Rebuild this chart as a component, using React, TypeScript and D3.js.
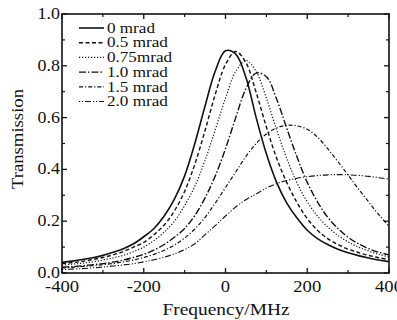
import React from "react";
import * as d3 from "d3";

const freqs = [-400,-375,-350,-325,-300,-275,-250,-225,-200,-175,-150,-125,-100,-75,-50,-25,0,25,50,75,100,125,150,175,200,225,250,275,300,325,350,375,400];

const s00 = [0.041,0.046,0.052,0.059,0.068,0.080,0.094,0.113,0.140,0.172,0.220,0.285,0.375,0.500,0.645,0.780,0.858,0.845,0.755,0.600,0.460,0.350,0.270,0.212,0.165,0.133,0.110,0.092,0.078,0.067,0.058,0.050,0.044];
const s05 = [0.036,0.040,0.045,0.052,0.060,0.070,0.083,0.100,0.118,0.148,0.185,0.240,0.315,0.420,0.550,0.690,0.805,0.855,0.812,0.697,0.564,0.444,0.349,0.272,0.210,0.165,0.133,0.110,0.092,0.079,0.068,0.059,0.052];
const s075 = [0.030,0.034,0.038,0.043,0.050,0.058,0.068,0.082,0.100,0.125,0.158,0.200,0.260,0.335,0.435,0.553,0.675,0.778,0.820,0.778,0.675,0.553,0.442,0.348,0.275,0.220,0.178,0.145,0.120,0.100,0.085,0.072,0.062];
const s10 = [0.022,0.025,0.028,0.032,0.036,0.042,0.050,0.060,0.072,0.088,0.110,0.138,0.172,0.222,0.290,0.375,0.480,0.600,0.712,0.772,0.758,0.672,0.558,0.448,0.350,0.275,0.215,0.172,0.138,0.113,0.094,0.080,0.070];
const s15 = [0.020,0.022,0.025,0.028,0.032,0.037,0.043,0.050,0.060,0.072,0.088,0.108,0.135,0.170,0.215,0.270,0.330,0.390,0.450,0.500,0.537,0.560,0.570,0.568,0.555,0.525,0.480,0.430,0.378,0.325,0.275,0.225,0.180];
const s20 = [0.013,0.015,0.017,0.020,0.023,0.027,0.031,0.036,0.043,0.051,0.061,0.074,0.090,0.113,0.148,0.183,0.220,0.255,0.283,0.305,0.328,0.345,0.357,0.366,0.372,0.376,0.379,0.380,0.379,0.377,0.373,0.368,0.362];

const seriesLabels = ["0 mrad", "0.5 mrad", "0.75mrad", "1.0 mrad", "1.5 mrad", "2.0 mrad"];
const seriesValues = [s00, s05, s075, s10, s15, s20];
const dashes = ["", "4,2.5", "1.2,1.8", "7,2,1.5,2", "4,2,1.2,2", "1.2,1.8,1.2,1.8,6,2"];
const widths = [1.6, 1.4, 1.2, 1.4, 1.2, 1.1];

const xTickMajor = [-400, -200, 0, 200, 400];
const xTickMinor = [-300, -100, 100, 300];
const yTickMajor = [0, 0.2, 0.4, 0.6, 0.8, 1.0];
const yTickMinor = [0.1, 0.3, 0.5, 0.7, 0.9];

const FONT = "'Liberation Serif', 'Times New Roman', serif";

export default function App() {
  const W = 397, H = 320;
  const left = 62, right = 389, top = 14, bottom = 273;
  const x = d3.scaleLinear().domain([-400, 400]).range([left, right]);
  const y = d3.scaleLinear().domain([0, 1]).range([bottom, top]);
  const line = d3.line<[number, number]>()
    .x(d => x(d[0]))
    .y(d => y(d[1]))
    .curve(d3.curveCatmullRom.alpha(0.5));

  const T = (props: { x: number; y: number; size: number; sx?: number; anchor?: string; children: any }) => (
    <g transform={`translate(${props.x},${props.y}) scale(${props.sx || 1.1},1)`}>
      <text x={0} y={0} fontFamily={FONT} fontSize={props.size} textAnchor={props.anchor || "start"} fill="#111">{props.children}</text>
    </g>
  );

  const legX0 = 79, legX1 = 104, legY0 = 28, legStep = 14.7;

  return (
    <svg width={W} height={H} style={{ position: "absolute", left: 0, top: 0, background: "#fff" }}>
      <defs>
        <clipPath id="plotclip">
          <rect x={left} y={top} width={right - left} height={bottom - top} />
        </clipPath>
      </defs>
      <rect x={0} y={0} width={W} height={H} fill="#fff" />
      <g clipPath="url(#plotclip)">
        {seriesValues.map((vals, i) => (
          <path key={i} d={line(freqs.map((f, j) => [f, vals[j]] as [number, number])) || ""}
            fill="none" stroke="#111" strokeWidth={widths[i]} strokeDasharray={dashes[i]} />
        ))}
      </g>
      <rect x={left} y={top} width={right - left} height={bottom - top} fill="none" stroke="#111" strokeWidth={1.6} />
      {xTickMajor.map(v => (
        <g key={"xm" + v}>
          <line x1={x(v)} x2={x(v)} y1={bottom} y2={bottom - 5} stroke="#111" strokeWidth={1.3} />
          <line x1={x(v)} x2={x(v)} y1={top} y2={top + 5} stroke="#111" strokeWidth={1.3} />
        </g>
      ))}
      {xTickMinor.map(v => (
        <g key={"xn" + v}>
          <line x1={x(v)} x2={x(v)} y1={bottom} y2={bottom - 3} stroke="#111" strokeWidth={1.2} />
          <line x1={x(v)} x2={x(v)} y1={top} y2={top + 3} stroke="#111" strokeWidth={1.2} />
        </g>
      ))}
      {yTickMajor.map(v => (
        <g key={"ym" + v}>
          <line x1={left} x2={left + 5} y1={y(v)} y2={y(v)} stroke="#111" strokeWidth={1.3} />
          <line x1={right} x2={right - 5} y1={y(v)} y2={y(v)} stroke="#111" strokeWidth={1.3} />
        </g>
      ))}
      {yTickMinor.map(v => (
        <g key={"yn" + v}>
          <line x1={left} x2={left + 3} y1={y(v)} y2={y(v)} stroke="#111" strokeWidth={1.2} />
          <line x1={right} x2={right - 3} y1={y(v)} y2={y(v)} stroke="#111" strokeWidth={1.2} />
        </g>
      ))}
      {xTickMajor.map(v => (
        <T key={"xl" + v} x={x(v)} y={292} size={16.5} sx={1.13} anchor="middle">{String(v)}</T>
      ))}
      {yTickMajor.map(v => (
        <T key={"yl" + v} x={60} y={y(v) + 5} size={16} sx={1.12} anchor="end">{v.toFixed(1)}</T>
      ))}
      <T x={226} y={315} size={17.5} sx={1.11} anchor="middle">Frequency/MHz</T>
      <g transform={`translate(23,139) rotate(-90) scale(1.1,1)`}>
        <text x={0} y={0} fontFamily={FONT} fontSize={17} textAnchor="middle" fill="#111">Transmission</text>
      </g>
      {seriesLabels.map((lab, i) => (
        <g key={"lg" + i}>
          <line x1={legX0} x2={legX1} y1={legY0 + i * legStep} y2={legY0 + i * legStep}
            stroke="#111" strokeWidth={widths[i]} strokeDasharray={dashes[i]} />
          <T x={107} y={legY0 + i * legStep + 4.7} size={14.5} sx={1.18}>{lab}</T>
        </g>
      ))}
    </svg>
  );
}
